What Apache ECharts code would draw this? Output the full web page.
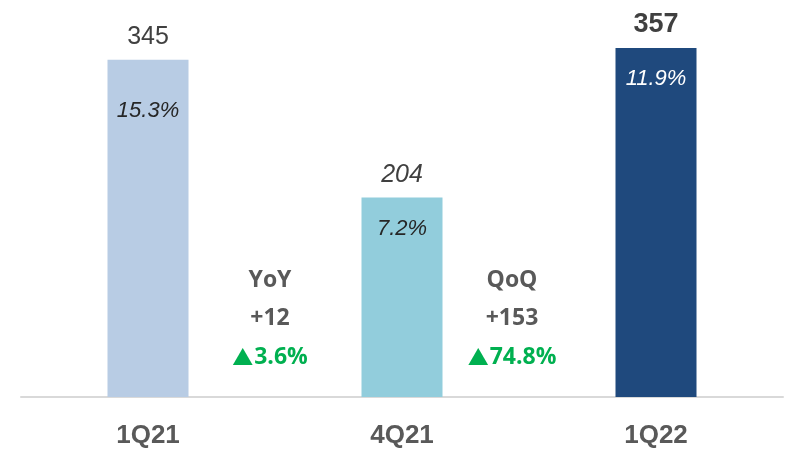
<!DOCTYPE html>
<html>
<head>
<meta charset="utf-8">
<title>Quarterly</title>
<script src="https://cdn.jsdelivr.net/npm/echarts@6/dist/echarts.min.js"></script>
<style>
  * { margin: 0; padding: 0; }
  body { background: #fff; }
  #main { width: 789px; height: 449px; }
</style>
</head>
<body>
<div id="main"></div>
<script>
var categories = ['1Q21', '4Q21', '1Q22'];
var values = [345, 204, 357];
var shares = ['15.3%', '7.2%', '11.9%'];
var yoy = ['YoY', '+12', '3.6%'];
var qoq = ['QoQ', '+153', '74.8%'];

var barColors = ['#B8CCE4', '#92CDDC', '#1F497D'];
var valueStyle = [
  { fontWeight: 'normal', fontStyle: 'normal', fontSize: 25 },
  { fontWeight: 'normal', fontStyle: 'italic', fontSize: 25 },
  { fontWeight: 'bold', fontStyle: 'normal', fontSize: 27 }
];
var shareOffset = [40, 20, 20];
var shareColor = ['#262626', '#262626', '#ffffff'];

var myChart = echarts.init(document.getElementById('main'));

// three stacked lines of text, the last one green with a triangle
function annotation(lines, cx) {
  var mid = [280, 318, 357];
  return lines.map(function (t, i) {
    var last = i === 2;
    return {
      type: 'text',
      x: cx,
      y: mid[i],
      style: {
        text: last ? '{tri|▲}' + t : t,
        textAlign: 'center',
        textVerticalAlign: 'middle',
        fill: last ? '#00B050' : '#595959',
        font: 'bold 23px "Open Sans", "Noto Sans", sans-serif',
        rich: {
          tri: {
            fontFamily: '"Noto Sans CJK SC"',
            fontSize: 21,
            fill: '#00B050',
            padding: [0, 1, 0, 0]
          }
        }
      }
    };
  });
}

var option = {
  animation: false,
  grid: { left: 21, right: 6, top: 6, bottom: 49 },
  xAxis: {
    type: 'category',
    data: categories,
    axisLine: { lineStyle: { color: '#D9D9D9', width: 2 } },
    axisTick: { show: false },
    axisLabel: {
      color: '#595959',
      fontSize: 26,
      fontWeight: 'bold',
      fontFamily: '"Liberation Sans", Arial',
      margin: 26
    }
  },
  yAxis: {
    type: 'value',
    min: 0,
    max: 400,
    show: false,
    splitLine: { show: false }
  },
  series: [
    {
      type: 'bar',
      barWidth: 81,
      data: values.map(function (v, i) {
        return {
          value: v,
          itemStyle: { color: barColors[i] },
          label: {
            show: true,
            position: 'top',
            distance: 10,
            color: '#404040',
            fontFamily: '"Liberation Sans", Arial',
            fontSize: valueStyle[i].fontSize,
            fontWeight: valueStyle[i].fontWeight,
            fontStyle: valueStyle[i].fontStyle
          }
        };
      })
    },
    {
      type: 'bar',
      barWidth: 81,
      barGap: '-100%',
      silent: true,
      itemStyle: { color: 'transparent' },
      data: values.map(function (v, i) {
        return {
          value: v,
          label: {
            show: true,
            position: 'insideTop',
            distance: shareOffset[i],
            formatter: shares[i],
            color: shareColor[i],
            fontFamily: '"Liberation Sans", Arial',
            fontSize: 22,
            fontStyle: 'italic'
          }
        };
      })
    }
  ],
  graphic: annotation(yoy, 270).concat(annotation(qoq, 512))
};
myChart.setOption(option);
</script>
</body>
</html>
